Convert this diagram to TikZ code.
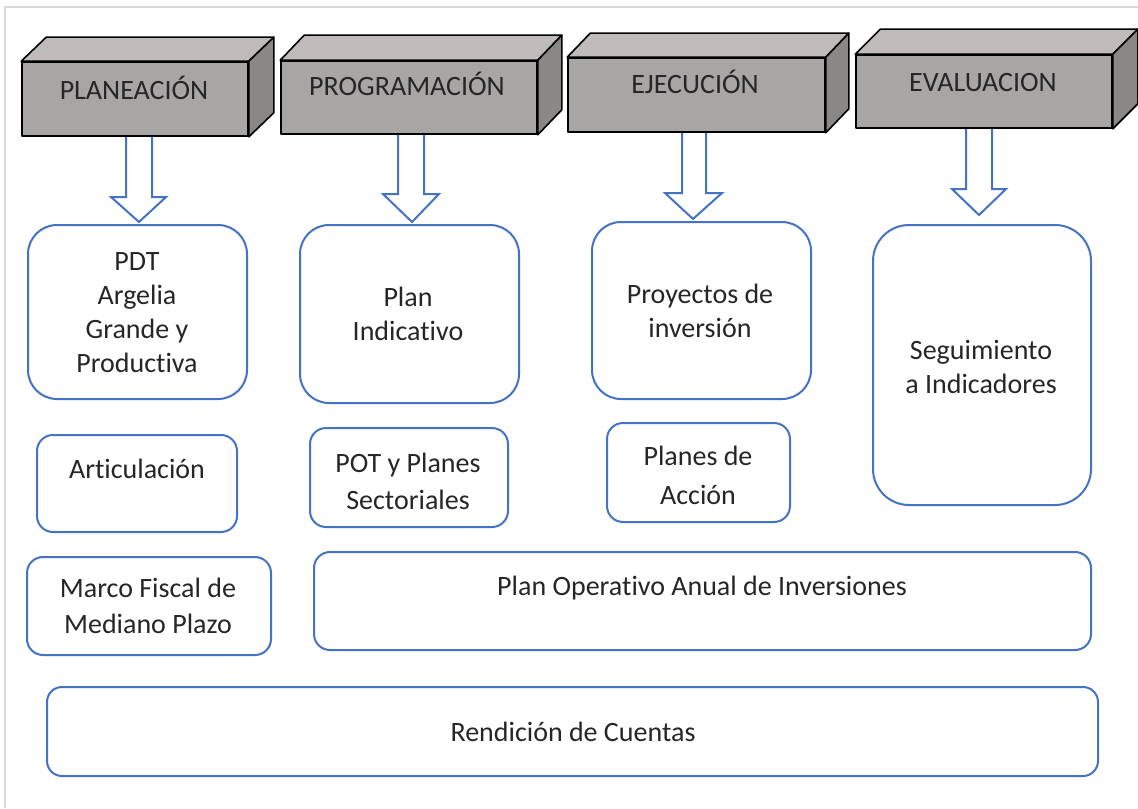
\documentclass[tikz,border=0pt]{standalone}
\usepackage{fontspec}
\setmainfont{Carlito}[Ligatures=NoCommon]
\usetikzlibrary{calc}
\definecolor{bl}{HTML}{4472C4}
\definecolor{gfront}{HTML}{A8A5A5}
\definecolor{gtop}{HTML}{BFBBBB}
\definecolor{gside}{HTML}{8A8787}
\definecolor{framec}{HTML}{D9D9D9}
\definecolor{txt}{HTML}{262626}
\tikzset{
  rbox/.style={draw=bl, line width=1pt, fill=white, inner sep=0pt},
  face/.style={draw=black, line width=0.8pt, fill=gfront, inner sep=0pt, line join=round},
  topface/.style={draw=black, line width=0.8pt, fill=gtop, line join=round},
  sideface/.style={draw=black, line width=0.8pt, fill=gside, line join=round},
  barrow/.style={draw=bl, line width=1pt, fill=white, line join=miter},
  lbl/.style={text=txt, inner sep=0pt, align=center, font=\fontsize{14}{17}\selectfont},
  one/.style={lbl, text height=9pt, text depth=0pt},
}
\newcommand\cubesides[3]{%
  \filldraw[topface] (#1.north west) -- ++(#2,-#3) -- ($(#1.north east)+(#2,-#3)$) -- (#1.north east) -- cycle;
  \filldraw[sideface] (#1.north east) -- ++(#2,-#3) -- ($(#1.south east)+(#2,-#3)$) -- (#1.south east) -- cycle;}
\newcommand\blockarr[8]{%
  \filldraw[barrow] (#1,#6) -- (#1,#7) -- (#3,#7) -- (#5,#8) -- (#4,#7) -- (#2,#7) -- (#2,#6);}
\begin{document}
\begin{tikzpicture}[x=0.5pt, y=-0.5pt]
\useasboundingbox (0,0) rectangle (1138,808);
\fill[white] (0,0) rectangle (1138,808);
\draw[framec, line width=1pt] (1138,7) -- (5,7) -- (5,808);

% block arrows
\blockarr{126}{152}{111}{166}{139}{130}{197}{222}
\blockarr{398}{424}{383}{439}{412}{128}{194}{222}
\blockarr{682}{706}{665}{722}{693}{126}{193}{219}
\blockarr{966}{992}{952}{1006}{979}{122}{189}{215}

% header cubes
\node[face, minimum width=113pt, minimum height=37pt] (h1) at (135,99) {};
\cubesides{h1}{25}{24}
\node[face, minimum width=128pt, minimum height=36.5pt] (h2) at (409,97.5) {};
\cubesides{h2}{24}{25}
\node[face, minimum width=128.5pt, minimum height=37pt] (h3) at (696.5,95) {};
\cubesides{h3}{23}{24}
\node[face, minimum width=128pt, minimum height=36.5pt] (h4) at (984,91.5) {};
\cubesides{h4}{25}{25}
\node[one] (t1) at (134,90) {PLANEACIÓN};
\node[one] (t2) at (407,87) {PROGRAMACIÓN};
\node[one] (t3) at (695,85) {EJECUCIÓN};
\node[one] (t4) at (983,82) {EVALUACION};

% rounded boxes
\node[rbox, minimum width=109.5pt, minimum height=87pt, rounded corners=14.5pt] (b1) at (137.5,312) {};
\node[rbox, minimum width=100pt, minimum height=48.5pt, rounded corners=8pt] (b2) at (137,483.5) {};
\node[rbox, minimum width=122pt, minimum height=49pt, rounded corners=8pt] (b3) at (149,606) {};
\node[rbox, minimum width=109.5pt, minimum height=89pt, rounded corners=14.5pt] (b4) at (409.5,314) {};
\node[rbox, minimum width=99pt, minimum height=49.5pt, rounded corners=8pt] (b5) at (409,477.5) {};
\node[rbox, minimum width=109.5pt, minimum height=88.5pt, rounded corners=14.5pt] (b6) at (701.5,310.5) {};
\node[rbox, minimum width=91.5pt, minimum height=49.5pt, rounded corners=8pt] (b7) at (698.5,472.5) {};
\node[rbox, minimum width=109pt, minimum height=140pt, rounded corners=18pt] (b8) at (982,365) {};
\node[rbox, minimum width=388.5pt, minimum height=49pt, rounded corners=8pt] (b9) at (702.5,601) {};
\node[rbox, minimum width=525.5pt, minimum height=44.5pt, rounded corners=7.5pt] (b10) at (572.5,731.5) {};

% texts
\node[lbl] (l1) at (137,313) {PDT\\Argelia\\Grande y\\Productiva};
\node[one] (l2) at (137,469) {Articulación};
\node[lbl, font=\fontsize{14}{18}\selectfont] (l3) at (148,606) {Marco Fiscal de\\Mediano Plazo};
\node[lbl] (l4) at (408,314) {Plan\\Indicativo};
\node[lbl, font=\fontsize{14}{18.5}\selectfont] (l5) at (408,481) {POT y Planes\\Sectoriales};
\node[lbl] (l6) at (700,311) {Proyectos de\\inversión};
\node[lbl, font=\fontsize{14}{19.5}\selectfont] (l7) at (698,475) {Planes de\\Acción};
\node[lbl] (l8) at (981,367) {Seguimiento\\a Indicadores};
\node[one] (l9) at (702,586) {Plan Operativo Anual de Inversiones};
\node[one] (l10) at (573,732) {Rendición de Cuentas};
\end{tikzpicture}
\end{document}
